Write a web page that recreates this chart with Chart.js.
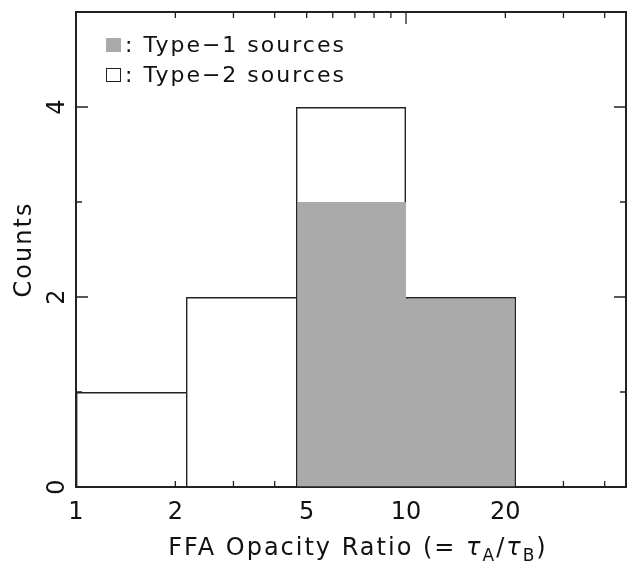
<!DOCTYPE html>
<html lang="en">
<head>
  <meta charset="UTF-8">
  <title>FFA Opacity Ratio</title>
  <script src="https://cdn.jsdelivr.net/npm/chart.js"></script>
  <style>
    body {
      margin: 0;
      background: #fff;
      font-family: "DejaVu Sans", sans-serif;
    }

    .wrap {
      position: relative;
      width: 633px;
      height: 566px;
    }

    .legend {
      position: absolute;
      left: 106px;
      top: 30px;
      font-size: 22px;
      line-height: 30px;
      letter-spacing: 2px;
      color: #111;
    }

    .legend .row {
      display: flex;
      align-items: center;
      white-space: nowrap;
    }

    .swatch {
      width: 15px;
      height: 14px;
      box-sizing: border-box;
      margin-right: 4px;
    }

    .swatch.filled { background: #aaaaaa; }
    .swatch.empty { border: 1.5px solid #222; background: #fff; }
  </style>
</head>
<body>
  <div class="wrap">
    <canvas id="hist" width="633" height="566"></canvas>
    <div class="legend">
      <div class="row"><span class="swatch filled"></span>:&nbsp;Type−1 sources</div>
      <div class="row"><span class="swatch empty"></span>:&nbsp;Type−2 sources</div>
    </div>
  </div>

  <script>
    // bins are 1/3 dex wide, from 1 to 10^(5/3)
    const binLabels = ["1-2.15", "2.15-4.64", "4.64-10", "10-21.5", "21.5-46.4"];
    const type2Counts = [1, 2, 4, 2, 0];   // outlined histogram
    const type1Counts = [0, 0, 3, 2, 0];   // grey filled histogram

    const xMin = 1;
    const xMax = Math.pow(10, 5 / 3);
    const xLabelTicks = [1, 2, 5, 10, 20];
    const xMajorTicks = [1, 10];
    const xMinorTicks = [2, 3, 4, 5, 6, 7, 8, 9, 20, 30, 40];
    const yLabelTicks = [0, 2, 4];
    const yMinorTicks = [1, 3];

    const ink = "#222";
    const fontFamily = "'DejaVu Sans', sans-serif";
    const lw = 1.4;

    // frame and inward ticks, drawn under the bars
    const frameTicks = {
      id: "frameTicks",
      beforeDatasetsDraw(chart) {
        const ctx = chart.ctx;
        const xs = chart.scales.xLog;
        const ys = chart.scales.y;
        const { left, right, top, bottom } = chart.chartArea;
        ctx.save();
        ctx.strokeStyle = ink;
        ctx.lineWidth = 2;
        ctx.strokeRect(left, top, right - left, bottom - top);
        ctx.lineWidth = 1.3;
        ctx.beginPath();
        const xTick = (v, len) => {
          const px = xs.getPixelForValue(v);
          ctx.moveTo(px, bottom); ctx.lineTo(px, bottom - len);
          ctx.moveTo(px, top); ctx.lineTo(px, top + len);
        };
        xMajorTicks.forEach(v => xTick(v, 12));
        xMinorTicks.forEach(v => xTick(v, 6));
        const yTick = (v, len) => {
          const py = ys.getPixelForValue(v);
          ctx.moveTo(left, py); ctx.lineTo(left + len, py);
          ctx.moveTo(right, py); ctx.lineTo(right - len, py);
        };
        yLabelTicks.forEach(v => yTick(v, 12));
        yMinorTicks.forEach(v => yTick(v, 6));
        ctx.stroke();
        ctx.restore();
      },
      afterDraw(chart) {
        const ctx = chart.ctx;
        const ys = chart.scales.y;
        const { top, bottom } = chart.chartArea;
        ctx.save();
        ctx.fillStyle = "#111";
        // rotated y tick labels
        ctx.font = "24px " + fontFamily;
        ctx.textAlign = "center";
        ctx.textBaseline = "middle";
        yLabelTicks.forEach(v => {
          ctx.save();
          ctx.translate(58, ys.getPixelForValue(v));
          ctx.rotate(-Math.PI / 2);
          ctx.fillText(String(v), 0, 0);
          ctx.restore();
        });
        // y title
        ctx.save();
        ctx.letterSpacing = "2px";
        ctx.font = "24px " + fontFamily;
        ctx.translate(25, (top + bottom) / 2);
        ctx.rotate(-Math.PI / 2);
        ctx.fillText("Counts", 0, 0);
        ctx.restore();
        // x title with subscripts
        ctx.letterSpacing = "2px";
        const big = "24px " + fontFamily;
        const bigIt = "italic 24px " + fontFamily;
        const small = "17px " + fontFamily;
        const parts = [
          { t: "FFA Opacity Ratio (= ", f: big, dy: 0 },
          { t: "τ", f: bigIt, dy: 0 },
          { t: "A", f: small, dy: 6 },
          { t: "/", f: big, dy: 0 },
          { t: "τ", f: bigIt, dy: 0 },
          { t: "B", f: small, dy: 6 },
          { t: ")", f: big, dy: 0 }
        ];
        let w = 0;
        parts.forEach(p => { ctx.font = p.f; p.w = ctx.measureText(p.t).width; w += p.w; });
        let x = 358 - w / 2;
        const baseY = 555;
        ctx.textAlign = "left";
        ctx.textBaseline = "alphabetic";
        parts.forEach(p => {
          ctx.font = p.f;
          ctx.fillText(p.t, x, baseY + p.dy);
          x += p.w;
        });
        ctx.restore();
      }
    };

    new Chart(document.getElementById("hist"), {
      type: "bar",
      data: {
        labels: binLabels,
        datasets: [
          {
            label: "Type-1 sources",
            data: type1Counts,
            backgroundColor: "#aaaaaa",
            borderColor: ink,
            borderSkipped: false,
            inflateAmount: 0,
            borderWidth: (c) => {
              const i = c.dataIndex;
              const v = type1Counts[i];
              if (v === 0) return 0;
              const prev = i > 0 ? type1Counts[i - 1] : 0;
              const full = v === type2Counts[i];
              return {
                left: prev === 0 ? lw : 0,
                top: full ? lw : 0,
                right: full ? lw : 0,
                bottom: 0
              };
            },
            order: 0
          },
          {
            label: "Type-2 sources",
            data: type2Counts,
            backgroundColor: "rgba(0,0,0,0)",
            borderColor: ink,
            borderSkipped: false,
            inflateAmount: 0,
            borderWidth: (c) => {
              const i = c.dataIndex;
              const next = i + 1 < type2Counts.length ? type2Counts[i + 1] : 0;
              return { top: lw, left: lw, bottom: 0, right: next < type2Counts[i] ? lw : 0 };
            },
            order: 1
          }
        ]
      },
      options: {
        responsive: false,
        animation: false,
        grouped: false,
        barPercentage: 1,
        categoryPercentage: 1,
        layout: { padding: { left: 0, top: 12, right: 7, bottom: 0 } },
        plugins: {
          legend: { display: false },
          tooltip: { enabled: false }
        },
        scales: {
          x: {
            type: "category",
            display: false,
            offset: true
          },
          xLog: {
            type: "logarithmic",
            position: "bottom",
            min: xMin,
            max: xMax,
            grid: { drawOnChartArea: false, drawTicks: false },
            border: { display: false },
            afterFit: (s) => {
              s.height = 79;
              s.paddingLeft = 0;
              s.paddingRight = 0;
            },
            ticks: {
              autoSkip: false,
              maxRotation: 0,
              padding: 11,
              color: "#111",
              font: { family: fontFamily, size: 24 },
              callback: (v) => xLabelTicks.includes(v) ? String(v) : ""
            }
          },
          y: {
            min: 0,
            max: 5,
            grid: { drawOnChartArea: false, drawTicks: false },
            border: { display: false },
            ticks: { display: false, stepSize: 1 },
            afterFit: (s) => { s.width = 76; }
          }
        }
      },
      plugins: [frameTicks]
    });
  </script>
</body>
</html>
